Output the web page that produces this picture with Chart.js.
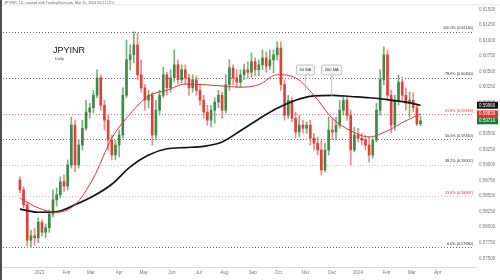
<!DOCTYPE html>
<html lang="en">
<head>
<meta charset="UTF-8">
<title>JPYINR Daily</title>
<script src="https://cdn.jsdelivr.net/npm/chart.js"></script>
<style>
    html, body { margin: 0; padding: 0; background: #fff; overflow: hidden; }
    .chart-wrapper { position: relative; width: 500px; height: 280px; }
    #fxChart { display: block; width: 500px; height: 280px; }
</style>
</head>
<body>
<div class="chart-wrapper"><canvas id="fxChart" width="500" height="280"></canvas></div>
<script>
// one candle = 3 trading days, x axis counts trading days (Jan 2 2023 = 0)
const candleStartDay = -16;
const candleStep = 3;
const firstOpen = 0.5876;
const closes = [
    0.5860, 0.5836, 0.5779, 0.5786, 0.5783, 0.5808, 0.5792, 0.5799, 0.5821, 0.5844,
    0.5852, 0.5873, 0.5866, 0.5900, 0.5964, 0.5900, 0.5932, 0.5959, 0.5985, 0.5992,
    0.6012, 0.6040, 0.5996, 0.5972, 0.5940, 0.5916, 0.5932, 0.5948, 0.6012, 0.6069,
    0.6077, 0.6093, 0.6045, 0.6024, 0.6004, 0.6012, 0.5948, 0.5988, 0.6012, 0.6045,
    0.6024, 0.6040, 0.6061, 0.6037, 0.6053, 0.6040, 0.6024, 0.6037, 0.6020, 0.6004,
    0.5985, 0.5972, 0.5988, 0.6001, 0.6012, 0.5988, 0.6029, 0.6056, 0.6040, 0.6033,
    0.6045, 0.6053, 0.6049, 0.6066, 0.6053, 0.6061, 0.6072, 0.6059, 0.6069, 0.6077,
    0.6088, 0.6029, 0.5980, 0.6004, 0.5975, 0.5953, 0.5964, 0.5959, 0.5964, 0.5943,
    0.5935, 0.5924, 0.5892, 0.5924, 0.5956, 0.5953, 0.5964, 0.5988, 0.6004, 0.5980,
    0.5924, 0.5948, 0.5943, 0.5940, 0.5932, 0.5916, 0.5940, 0.5988, 0.6037, 0.6077,
    0.6012, 0.5964, 0.6004, 0.6033, 0.6012, 0.5999, 0.6004, 0.5992, 0.5966, 0.5971
];
const highs = [
    0.5881, 0.5865, 0.5839, 0.5795, 0.5799, 0.5815, 0.5812, 0.5805, 0.5828, 0.5860,
    0.5863, 0.5881, 0.5884, 0.5908, 0.5977, 0.5972, 0.5940, 0.5972, 0.6004, 0.5999,
    0.6020, 0.6053, 0.6045, 0.6004, 0.5980, 0.5948, 0.5940, 0.5956, 0.6024, 0.6101,
    0.6093, 0.6114, 0.6112, 0.6069, 0.6029, 0.6020, 0.6017, 0.6004, 0.6020, 0.6057,
    0.6049, 0.6053, 0.6085, 0.6069, 0.6061, 0.6061, 0.6046, 0.6045, 0.6043, 0.6029,
    0.6012, 0.5996, 0.5996, 0.6008, 0.6020, 0.6017, 0.6045, 0.6069, 0.6061, 0.6053,
    0.6053, 0.6062, 0.6066, 0.6080, 0.6072, 0.6069, 0.6085, 0.6082, 0.6085, 0.6085,
    0.6098, 0.6098, 0.6037, 0.6012, 0.6009, 0.5985, 0.5980, 0.5972, 0.5969, 0.5972,
    0.5951, 0.5945, 0.5940, 0.5935, 0.5977, 0.5975, 0.5977, 0.6004, 0.6009, 0.6009,
    0.5988, 0.5961, 0.5959, 0.5951, 0.5948, 0.5945, 0.5943, 0.5999, 0.6053, 0.6090,
    0.6085, 0.6020, 0.6012, 0.6045, 0.6041, 0.6024, 0.6017, 0.6016, 0.5996, 0.5979
];
const lows = [
    0.5855, 0.5831, 0.5770, 0.5768, 0.5771, 0.5775, 0.5786, 0.5783, 0.5792, 0.5816,
    0.5834, 0.5847, 0.5857, 0.5860, 0.5895, 0.5889, 0.5895, 0.5924, 0.5956, 0.5975,
    0.5984, 0.6008, 0.5988, 0.5956, 0.5924, 0.5908, 0.5908, 0.5913, 0.5943, 0.6008,
    0.6053, 0.6064, 0.6037, 0.6017, 0.5988, 0.5992, 0.5932, 0.5940, 0.5980, 0.6008,
    0.6012, 0.6017, 0.6033, 0.6030, 0.6032, 0.6029, 0.6012, 0.6017, 0.6012, 0.5996,
    0.5975, 0.5964, 0.5961, 0.5967, 0.5992, 0.5975, 0.5984, 0.6020, 0.6029, 0.6024,
    0.6025, 0.6037, 0.6040, 0.6041, 0.6043, 0.6043, 0.6053, 0.6049, 0.6053, 0.6048,
    0.6069, 0.6020, 0.5972, 0.5975, 0.5969, 0.5943, 0.5945, 0.5951, 0.5951, 0.5932,
    0.5924, 0.5916, 0.5884, 0.5889, 0.5916, 0.5940, 0.5940, 0.5959, 0.5980, 0.5972,
    0.5900, 0.5921, 0.5937, 0.5932, 0.5924, 0.5905, 0.5911, 0.5937, 0.5980, 0.6029,
    0.6004, 0.5951, 0.5956, 0.5996, 0.6004, 0.5988, 0.5977, 0.5985, 0.5963, 0.5963
];

// moving averages, read at every 5th candle
const maCandles = [0, 5, 10, 15, 20, 25, 30, 35, 40, 45, 50, 55, 60, 65, 70, 75, 80, 85, 90, 95, 100, 105, 109];
const ma50 = [0.5847, 0.5831, 0.5824, 0.5836, 0.5879, 0.5943, 0.5982, 0.6011, 0.6020, 0.6030, 0.6029, 0.6027,
    0.6025, 0.6029, 0.6045, 0.6040, 0.6012, 0.5975, 0.5955, 0.5945, 0.5955, 0.5971, 0.5982];
const ma200 = [0.5829, 0.5824, 0.5825, 0.5836, 0.5850, 0.5869, 0.5897, 0.5916, 0.5926, 0.5928, 0.5930, 0.5937,
    0.5955, 0.5974, 0.5991, 0.6004, 0.6011, 0.6012, 0.6010, 0.6008, 0.6005, 0.6001, 0.5996];

const monthDays = [0, 22, 42, 65, 85, 108, 130, 151, 174, 195, 217, 239, 260, 283, 304, 325];
const monthLabels = ['2023', 'Feb', 'Mar', 'Apr', 'May', 'Jun', 'Jul', 'Aug', 'Sep', 'Oct', 'Nov', 'Dec', '2024', 'Feb', 'Mar', 'Apr'];
const yTicks = [0.6150, 0.6125, 0.6100, 0.6075, 0.6050, 0.6025, 0.6000, 0.5975, 0.5950, 0.5925,
    0.5900, 0.5875, 0.5850, 0.5825, 0.5800, 0.5775, 0.5750];

const fibHigh = 0.6114;
const fibLow = 0.5768;
const fibLevels = [1, 0.786, 0.618, 0.5, 0.382, 0.236, 0];

const callouts = [
    { label: '50 MA', day: 217, value: 0.6020 },
    { label: '200 MA', day: 238.5, value: 0.6011 }
];

const RED = '#e2403c';
const GREEN = '#3f8a46';

// build candles
const candles = closes.map((c, i) => {
    const open = i === 0 ? firstOpen : closes[i - 1];
    return {
        day: candleStartDay + candleStep * i,
        open: open,
        close: c,
        high: Math.max(highs[i], open, c),
        low: Math.min(lows[i], open, c)
    };
});
const candleColors = candles.map(c => c.close >= c.open ? GREEN : RED);
const wickColors = candles.map(c => c.close >= c.open ? '#79b07c' : '#ef8a87');

function maPoints(values) {
    return maCandles.map((ci, k) => ({ x: candleStartDay + candleStep * ci, y: values[k] }));
}

const overlay = {
    id: 'overlay',
    beforeDraw(chart) {
        const ctx = chart.ctx;
        ctx.save();
        ctx.fillStyle = '#fff';
        ctx.fillRect(0, 0, chart.width, chart.height);
        ctx.restore();
    },
    beforeDatasetsDraw(chart) {
        const ctx = chart.ctx;
        const y = chart.scales.y;
        const area = chart.chartArea;
        ctx.save();
        ctx.lineWidth = 1;
        ctx.setLineDash([1, 2]);
        fibLevels.forEach(lv => {
            const py = Math.round(y.getPixelForValue(fibLow + (fibHigh - fibLow) * lv)) + 0.5;
            let col = '#6b6b6b';
            if (lv === 0.618) col = '#e77b78';
            if (lv === 0.382) col = '#c9c9c9';
            if (lv === 0.236) col = '#f0b3b1';
            ctx.strokeStyle = col;
            ctx.beginPath();
            ctx.moveTo(area.left, py);
            ctx.lineTo(area.right - 3, py);
            ctx.stroke();
        });
        ctx.restore();
    },
    afterDraw(chart) {
        const ctx = chart.ctx;
        const x = chart.scales.x;
        const y = chart.scales.y;
        const area = chart.chartArea;
        ctx.save();

        // fib labels
        ctx.font = '3.8px "Liberation Sans", Arial, sans-serif';
        ctx.textAlign = 'right';
        ctx.textBaseline = 'alphabetic';
        fibLevels.forEach(lv => {
            const v = fibLow + (fibHigh - fibLow) * lv;
            const py = y.getPixelForValue(v);
            ctx.fillStyle = (lv === 0.618 || lv === 0.236) ? '#e2332f' : '#333';
            ctx.fillText((lv * 100).toFixed(1) + '% (' + v.toFixed(5) + ')', area.right - 3, py - 2.5);
        });

        // callouts
        ctx.font = '4px "Liberation Sans", Arial, sans-serif';
        ctx.textAlign = 'center';
        ctx.textBaseline = 'middle';
        callouts.forEach(c => {
            const px = x.getPixelForValue(c.day);
            const py = y.getPixelForValue(c.value);
            const w = c.label.length * 2.4 + 6;
            const top = 65, h = 10;
            ctx.strokeStyle = '#b5b5b5';
            ctx.lineWidth = 0.8;
            ctx.beginPath();
            ctx.moveTo(px, top + h);
            ctx.lineTo(px, py);
            ctx.stroke();
            ctx.fillStyle = '#f4f4f4';
            ctx.beginPath();
            ctx.roundRect(px - w / 2, top, w, h, 2);
            ctx.fill();
            ctx.stroke();
            ctx.fillStyle = '#333';
            ctx.fillText(c.label, px, top + h / 2);
        });

        // price boxes on the right axis
        const boxes = [
            { v: ma200[ma200.length - 1], col: '#131313' },
            { v: ma50[ma50.length - 1], col: '#e2332f' },
            { v: closes[closes.length - 1], col: '#1f7a34' }
        ];
        ctx.font = '4.5px "Liberation Sans", Arial, sans-serif';
        ctx.textAlign = 'left';
        boxes.forEach(b => {
            const py = y.getPixelForValue(b.v);
            ctx.fillStyle = b.col;
            ctx.fillRect(area.right + 1, py - 3.5, 21, 7);
            ctx.fillStyle = '#fff';
            ctx.fillText(b.v.toFixed(5), area.right + 3, py + 0.3);
        });

        // title
        ctx.fillStyle = '#111';
        ctx.textBaseline = 'alphabetic';
        ctx.font = '9px "Liberation Sans", Arial, sans-serif';
        ctx.fillText('JPYINR', 53, 53);
        ctx.font = '4px "Liberation Sans", Arial, sans-serif';
        ctx.fillStyle = '#444';
        ctx.fillText('Daily', 55, 60);

        // header strip
        ctx.font = '3.6px "Liberation Sans", Arial, sans-serif';
        ctx.fillStyle = '#666';
        ctx.fillText('JPYINR, 1D, created with TradingView.com, Mar 15, 2024 05:21 UTC', 4, 3.5);
        ctx.fillStyle = '#e3e3e3';
        ctx.fillRect(2, 4.5, chart.width - 2, 0.8);

        // left frame
        ctx.fillStyle = '#4d4d4d';
        ctx.fillRect(0, 0, 2, chart.height);
        ctx.restore();
    }
};

new Chart(document.getElementById('fxChart'), {
    data: {
        datasets: [
            {
                type: 'line',
                data: maPoints(ma200),
                borderColor: '#141414',
                borderWidth: 1.7,
                pointRadius: 0,
                cubicInterpolationMode: 'monotone',
                order: 1
            },
            {
                type: 'line',
                data: maPoints(ma50),
                borderColor: '#d63a36',
                borderWidth: 1,
                pointRadius: 0,
                cubicInterpolationMode: 'monotone',
                order: 0
            },
            {
                type: 'bar',
                data: candles.map(c => ({ x: c.day, y: [c.low, c.high] })),
                backgroundColor: wickColors,
                barThickness: 1,
                grouped: false,
                order: 3
            },
            {
                type: 'bar',
                data: candles.map(c => ({ x: c.day, y: [c.open, c.close] })),
                backgroundColor: candleColors,
                barThickness: 2,
                minBarLength: 1,
                grouped: false,
                order: 2
            }
        ]
    },
    options: {
        responsive: false,
        animation: false,
        devicePixelRatio: 1,
        layout: { padding: { top: 6, left: 0, right: 0, bottom: 0 } },
        plugins: { legend: { display: false }, tooltip: { enabled: false } },
        scales: {
            x: {
                type: 'linear',
                min: -20.1,
                max: 344.1,
                grid: { display: false, drawTicks: false },
                border: { color: '#d9d9d9' },
                afterBuildTicks: s => { s.ticks = monthDays.map(v => ({ value: v })); },
                afterFit: s => { s.height = 13; },
                ticks: {
                    autoSkip: false,
                    maxRotation: 0,
                    padding: 3,
                    color: '#777',
                    font: { size: 4.5, family: '"Liberation Sans", Arial, sans-serif' },
                    callback: (v, i) => monthLabels[i]
                }
            },
            y: {
                type: 'linear',
                position: 'right',
                min: 0.5736,
                max: 0.61555,
                grid: { display: false, drawTicks: false },
                border: { display: false },
                afterBuildTicks: s => { s.ticks = yTicks.map(v => ({ value: v })); },
                afterFit: s => { s.width = 24; },
                ticks: {
                    padding: 3,
                    color: '#777',
                    font: { size: 4.5, family: '"Liberation Sans", Arial, sans-serif' },
                    callback: v => v.toFixed(5)
                }
            }
        }
    },
    plugins: [overlay]
});
</script>
</body>
</html>
